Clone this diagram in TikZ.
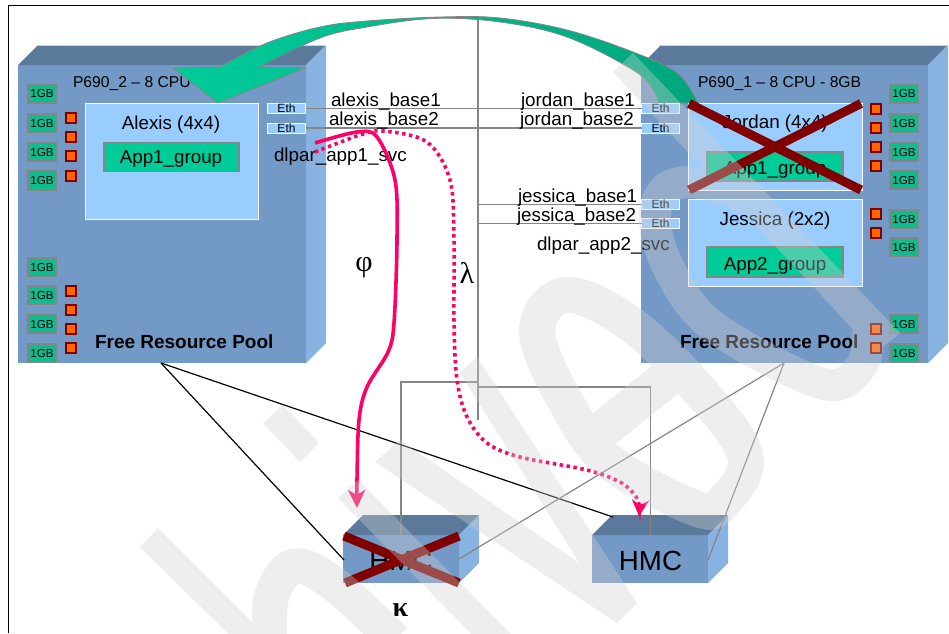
\documentclass[tikz,border=0pt]{standalone}
\usepackage{fontspec}
\setmainfont{Liberation Sans}
\newfontfamily\serifgreek{Liberation Serif}
\usetikzlibrary{arrows.meta}
\definecolor{frontblue}{HTML}{7399C6}
\definecolor{topblue}{HTML}{5B7A9B}
\definecolor{sideblue}{HTML}{88B2E0}
\definecolor{toprim}{HTML}{C9D5E3}
\definecolor{lpar}{HTML}{99CCFF}
\definecolor{appgreen}{HTML}{00CC99}
\definecolor{appdark}{HTML}{00A67D}
\definecolor{chipgreen}{HTML}{0FBC90}
\definecolor{linegray}{HTML}{858585}
\definecolor{hot}{HTML}{FF0066}
\definecolor{xred}{HTML}{800000}
\definecolor{cpuorange}{HTML}{FF6600}
\definecolor{wm}{HTML}{D0D0D0}
\newcommand{\fs}[1]{\fontsize{#1}{#1}\selectfont}
\tikzset{
  x=1pt,y=-1pt,
  frontface/.style={fill=frontblue},
  topface/.style={fill=topblue},
  sideface/.style={fill=sideblue},
  rim/.style={draw=toprim,line width=.8pt},
  box/.style={rectangle,inner sep=0pt,outer sep=0pt,anchor=center},
  lparbox/.style={box,fill=lpar,draw=white,line width=1pt},
  appbox/.style={box,fill=appgreen,draw=linegray,line width=1.2pt},
  chip/.style={box,minimum width=28.5pt,minimum height=18.5pt,fill=chipgreen,draw=linegray,line width=2pt,font=\fs{11.6}},
  cpu/.style={box,minimum width=10.5pt,minimum height=10.5pt,fill=cpuorange,draw=xred,line width=1.8pt},
  eth/.style={box,minimum width=38pt,minimum height=10pt,fill=lpar,draw=white,line width=.8pt,font=\fs{12}},
  txt/.style={inner sep=0pt,outer sep=0pt,anchor=base,font=\fs{18.8}},
  lbl/.style={inner sep=0pt,outer sep=0pt,anchor=base west,font=\fs{18.8}},
  title/.style={inner sep=0pt,outer sep=0pt,anchor=base west,font=\fs{15.7}},
  pool/.style={inner sep=0pt,outer sep=0pt,anchor=base west,font=\fs{19}\bfseries},
  net/.style={draw=linegray,line width=1.4pt},
  thin black/.style={draw=black,line width=1.2pt},
  thin gray/.style={draw=linegray,line width=1.2pt},
  xmark/.style={draw=xred,line width=9pt},
  move/.style={draw=hot,line width=3.6pt},
  greek/.style={inner sep=0pt,outer sep=0pt,anchor=center,font=\fs{30}\serifgreek},
  wmband/.style={draw=wm,line width=#1},
}
\begin{document}
\begin{tikzpicture}
\useasboundingbox (0,0) rectangle (949,633);
\fill[white] (0,0) rectangle (949,633);
% page frame
\draw[black,line width=1pt] (8.5,633) -- (8.5,5.5) -- (949,5.5);

% server cubes
\fill[frontface] (18,65) rectangle (306,363);
\fill[topface] (18,65) -- (38,45) -- (326,45) -- (306,65) -- cycle;
\fill[sideface] (306,65) -- (326,45) -- (326,343) -- (306,363) -- cycle;
\draw[rim] (38,45) -- (326,45);
\fill[frontface] (641,65) rectangle (928,363);
\fill[topface] (641,65) -- (661,45) -- (948,45) -- (928,65) -- cycle;
\fill[sideface] (928,65) -- (948,45) -- (948,343) -- (928,363) -- cycle;
\draw[rim] (661,45) -- (948,45);

% HMC cubes
\fill[frontface] (343,535) rectangle (459,583);
\fill[topface] (343,535) -- (363,515) -- (479,515) -- (459,535) -- cycle;
\fill[sideface] (459,535) -- (479,515) -- (479,563) -- (459,583) -- cycle;
\fill[frontface] (592,535) rectangle (708,583);
\fill[topface] (592,535) -- (612,515) -- (728,515) -- (708,535) -- cycle;
\fill[sideface] (708,535) -- (728,515) -- (728,563) -- (708,583) -- cycle;

\node[txt,font=\fs{27.7}] (hmcL) at (401,570) {HMC};
\node[txt,font=\fs{27.7}] (hmcR) at (650.5,570) {HMC};

% titles
\node[title] (titleL) at (73,87) {P690\_2 – 8 CPU};
\node[title] (titleR) at (698,87) {P690\_1 – 8 CPU - 8GB};

% failover arrow
\draw[draw=linegray,line width=.8pt,left color=appgreen,middle color=appgreen,right color=appdark]
  plot[smooth,tension=.6] coordinates {(220,67)(267,43)(320,27)(367,21)(440,17)(500,18)(567,30)(633,52)(677,73)(698,103)}
  -- plot[smooth,tension=.6] coordinates {(658,103)(653,90)(633,70)(567,37)(500,22)(433,18.5)(367,27)(320,38)(259,67)}
  -- (305,68) -- (218,103) -- (173,68) -- cycle;

% LPAR boxes
\node[lparbox,minimum width=173pt,minimum height=116pt] (alexis) at (171.5,161) {};
\node[txt] (alexisT) at (171,129) {Alexis (4x4)};
\node[appbox,minimum width=135pt,minimum height=29pt] (app1L) at (171.5,157) {};
\node[txt] (app1LT) at (171,163) {App1\_group};

\node[lparbox,minimum width=174pt,minimum height=87pt] (jordan) at (775,146.5) {};
\node[txt] (jordanT) at (775,128.5) {Jordan (4x4)};
\node[appbox,minimum width=136pt,minimum height=29pt] (app1R) at (775,166.5) {};
\node[txt] (app1RT) at (775,174) {App1\_group};

\node[lparbox,minimum width=174pt,minimum height=87pt] (jessica) at (775,242.5) {};
\node[txt] (jessicaT) at (775,225) {Jessica (2x2)};
\node[appbox,minimum width=136pt,minimum height=30pt] (app2R) at (775,262) {};
\node[txt] (app2RT) at (775,270.5) {App2\_group};

% memory chips
\foreach \n/\y in {a/94,b/123,c/152,d/180.5,e/267,f/295,g/324,h/353}
  \node[chip] (chipL\n) at (42,\y) {1GB};
\foreach \n/\y in {a/94,b/123,c/152,d/180,e/219,f/247,g/324,h/353}
  \node[chip] (chipR\n) at (904,\y) {1GB};
% processors
\foreach \n/\y in {a/118,b/137,c/156,d/176,e/291,f/310,g/329,h/348}
  \node[cpu] (cpuL\n) at (71,\y) {};
\foreach \n/\y in {a/109,b/128,c/147,d/166,e/214,f/233,g/329,h/348}
  \node[cpu] (cpuR\n) at (876,\y) {};

% adapters
\node[eth] (ethL1) at (286.5,108.5) {Eth};
\node[eth] (ethL2) at (286.5,128) {Eth};
\node[eth] (ethJo1) at (660.5,108.5) {Eth};
\node[eth] (ethJo2) at (660.5,128) {Eth};
\node[eth] (ethJe1) at (660.5,204.5) {Eth};
\node[eth] (ethJe2) at (660.5,223.5) {Eth};

% network
\coordinate (busTop) at (478,19);
\coordinate (busEnd) at (478,420);
\coordinate (busJe1) at (478,204.5);
\coordinate (busJe2) at (478,223.5);
\coordinate (busHl) at (478,382);
\coordinate (busHr) at (478,387);
\coordinate (hmcLtop) at (401,535);
\coordinate (hmcRtop) at (650.5,535);
\draw[net] (busTop) -- (busEnd);
\draw[net] (ethL1.east) -- (ethJo1.west);
\draw[net] (ethL2.east) -- (ethJo2.west);
\draw[net] (busJe1) -- (ethJe1.west);
\draw[net] (busJe2) -- (ethJe2.west);
\draw[net] (busHl) -| (hmcLtop);
\draw[net] (busHr) -| (hmcRtop);

% power / serial fans
\coordinate (poolL) at (161,363);
\coordinate (poolR) at (784,363);
\coordinate (hmcLfront) at (344,560);
\coordinate (hmcLside) at (459,559);
\coordinate (hmcRtopL) at (613,517);
\coordinate (hmcRside) at (708,560);
\draw[thin black] (poolL) -- (hmcLfront);
\draw[thin black] (poolL) -- (hmcRtopL);
\draw[thin gray] (poolR) -- (hmcLside);
\draw[thin gray] (poolR) -- (hmcRside);

% labels
\node[lbl] (aB1) at (331,106) {alexis\_base1};
\node[lbl] (aB2) at (329,125) {alexis\_base2};
\node[lbl] (aSvc) at (274,161) {dlpar\_app1\_svc};
\node[lbl] (joB1) at (521,106) {jordan\_base1};
\node[lbl] (joB2) at (520,125) {jordan\_base2};
\node[lbl] (jeB1) at (518,202) {jessica\_base1};
\node[lbl] (jeB2) at (517,221) {jessica\_base2};
\node[lbl] (jeSvc) at (537,250) {dlpar\_app2\_svc};
\node[pool] (poolTL) at (95,348) {Free Resource Pool};
\node[pool] (poolTR) at (680,348) {Free Resource Pool};
\node[greek] (phi) at (364,268) {φ};
\node[greek] (lam) at (467,273) {λ};
\node[greek,font=\fs{28}\serifgreek\bfseries] (kap) at (400.5,610) {κ};

% failed marks
\draw[xmark] (689,103.5) -- (861,190);
\draw[xmark] (861,103.5) -- (689,190);
\draw[xmark] (344,536) -- (459,583);
\draw[xmark] (459,536) -- (345,583);

% takeover paths
\coordinate (svcStart) at (315,143);
\coordinate (svcStart2) at (315,152);
\coordinate (hmcLin) at (357,508);
\coordinate (hmcRin) at (639,516);
\draw[move,-{Stealth[length=18pt,width=17pt,inset=5pt]}] plot[smooth,tension=.55] coordinates
  {(svcStart)(357,132)(377,137)(395,180)(397,240)(394,323)(388,352)(367,387)(359,420)(357,480)(hmcLin)};
\draw[move,dash pattern=on 3.4pt off 3.6pt,-{Stealth[length=16pt,width=17pt,inset=5pt]}] plot[smooth,tension=.55] coordinates
  {(svcStart2)(360,135)(383,131)(427,142)(450,180)(454,240)(454,323)(457,380)(467,417)(487,443)(520,457)(587,470)(620,482)(634,494)(639,504)(hmcRin)};

% watermark
\begin{scope}[transparency group,opacity=.36]
  \fill[wm] (140,547) -- (158,528) -- (275,645) -- (255,660) -- cycle;
  \fill[wm] (263,423) -- (283,405) -- (319,443) -- (300,462) -- cycle;
  \fill[wm] (338,498) -- (358,480) -- (520,643) -- (480,643) -- cycle;
  \fill[wm] (375,462) -- (400,440) -- (637,603) -- (617,623) -- cycle;
  \fill[wm] (460,373) -- (477,357) -- (637,603) -- (590,580) -- cycle;
  \draw[wmband=35pt] plot[smooth,tension=.6] coordinates {(270,645)(272,595)(295,566)(335,585)(395,640)};
  \draw[wmband=36pt] plot[smooth cycle,tension=.6] coordinates
    {(537,332)(565,295)(625,320)(690,380)(745,455)(722,503)(695,508)(610,462)(568,406)};
  \draw[wmband=38pt] (603.5,429) -- (690,360);
  \draw[wmband=32pt,line cap=round] plot[smooth,tension=.6] coordinates
    {(745,198)(702,183)(668,187)(655,215)(665,260)(700,315)(760,355)(830,385)(862,365)(868,335)};
  \fill[wm] (613,72) -- (633,53) -- (900,333) -- (875,353) -- cycle;
\end{scope}
\end{tikzpicture}
\end{document}
